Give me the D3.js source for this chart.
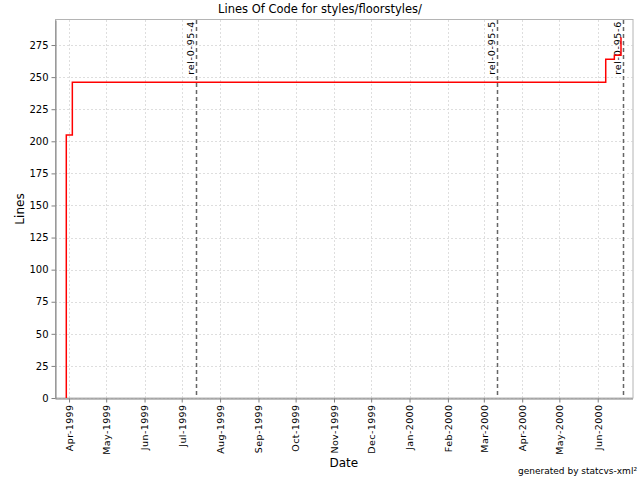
<!DOCTYPE html>
<html>
<head>
<meta charset="utf-8">
<script src="https://cdn.jsdelivr.net/npm/d3@7"></script>
<style>
  body { margin: 0; background: #fff; }
  svg text { font-family: "DejaVu Sans", sans-serif; fill: #000; }
  .grid line { stroke: #dedede; stroke-dasharray: 2,2; }
</style>
</head>
<body>
<svg width="640" height="480"></svg>
<script>
// commit history for styles/floorstyles/
var dates = ["1999-03-29T19:00Z", "1999-03-29T19:00Z", "1999-04-03T16:00Z",
             "2000-06-07T11:00Z", "2000-06-14T10:00Z", "2000-06-19T19:00Z"];
var lines = [0, 205, 246, 264, 267, 281];

// release tags
var tagNames = ["rel-0-95-4", "rel-0-95-5", "rel-0-95-6"];
var tagDates = ["1999-07-12T07:00Z", "2000-03-11T12:00Z", "2000-06-21T19:00Z"];

var yTicks = [0, 25, 50, 75, 100, 125, 150, 175, 200, 225, 250, 275];

var svg = d3.select("svg");

// plot box (window.top is reserved, so plotTop)
var plotLeft = 55, plotRight = 632.5, plotTop = 20, plotBottom = 398;

var x = d3.scaleUtc()
    .domain([new Date("1999-03-20T16:00Z"), new Date("2000-06-29T02:00Z")])
    .range([plotLeft, plotRight]);
var y = d3.scaleLinear().domain([0, 294.5]).range([plotBottom, plotTop]);

var data = dates.map(function(d, i) { return {date: new Date(d), value: lines[i]}; });
var tags = tagNames.map(function(n, i) { return {name: n, date: new Date(tagDates[i])}; });

// title
svg.append("text")
    .attr("x", 320).attr("y", 13)
    .attr("text-anchor", "middle")
    .style("font-size", "11.5px")
    .text("Lines Of Code for styles/floorstyles/");

// grid
var monthTicks = x.ticks(d3.utcMonth.every(1));
var grid = svg.append("g").attr("class", "grid");
grid.selectAll(".gx").data(monthTicks).enter().append("line")
    .attr("x1", function(d) { return Math.round(x(d)) + 0.5; })
    .attr("x2", function(d) { return Math.round(x(d)) + 0.5; })
    .attr("y1", plotTop).attr("y2", plotBottom);
grid.selectAll(".gy").data(yTicks).enter().append("line")
    .attr("x1", plotLeft).attr("x2", plotRight)
    .attr("y1", function(d) { return Math.round(y(d)) + 0.5; })
    .attr("y2", function(d) { return Math.round(y(d)) + 0.5; });

// plot outline
svg.append("rect")
    .attr("x", plotLeft + 0.5).attr("y", plotTop - 0.5)
    .attr("width", plotRight - plotLeft).attr("height", plotBottom - plotTop + 0.5)
    .attr("fill", "none").attr("stroke", "#b4b4b4");

// tag markers
var tag = svg.append("g").selectAll("g").data(tags).enter().append("g");
tag.append("line")
    .attr("x1", function(d) { return Math.round(x(d.date)) + 0.5; })
    .attr("x2", function(d) { return Math.round(x(d.date)) + 0.5; })
    .attr("y1", plotTop).attr("y2", plotBottom)
    .attr("stroke", "#666").attr("stroke-width", 1.5)
    .attr("stroke-dasharray", "4,3");
tag.append("text")
    .attr("transform", function(d) {
        return "translate(" + (Math.round(x(d.date)) - 2) + "," + (plotTop + 1) + ") rotate(-90)";
    })
    .attr("text-anchor", "end")
    .style("font-size", "9.5px")
    .style("letter-spacing", "0.7px")
    .text(function(d) { return d.name; });

// the LOC line
var line = d3.line()
    .curve(d3.curveStepAfter)
    .x(function(d) { return x(d.date); })
    .y(function(d) { return y(d.value); });
svg.append("path")
    .datum(data)
    .attr("d", line)
    .attr("fill", "none")
    .attr("stroke", "#ff0000")
    .attr("stroke-width", 1.5);

// axes
var xAxis = svg.append("g")
    .attr("transform", "translate(0," + (plotBottom + 0.5) + ")")
    .call(d3.axisBottom(x).tickValues(monthTicks)
        .tickFormat(d3.utcFormat("%b-%Y")).tickSizeInner(4).tickSizeOuter(0));
xAxis.selectAll("text")
    .attr("transform", "rotate(-90)")
    .attr("text-anchor", "end")
    .attr("x", -6).attr("y", 0).attr("dy", "0.35em")
    .style("font-size", "9.5px")
    .style("letter-spacing", "0.4px");

var yAxis = svg.append("g")
    .attr("transform", "translate(" + (plotLeft + 0.5) + ",0)")
    .call(d3.axisLeft(y).tickValues(yTicks).tickSizeInner(4).tickSizeOuter(0));
yAxis.selectAll("text").style("font-size", "10px");

svg.selectAll(".domain").attr("stroke", "#808080");
svg.selectAll(".tick line").attr("stroke", "#808080");
svg.selectAll(".tick text").attr("fill", "#000").style("font-family", "DejaVu Sans, sans-serif");

// axis labels
svg.append("text")
    .attr("x", (plotLeft + plotRight) / 2).attr("y", 467)
    .attr("text-anchor", "middle")
    .style("font-size", "12px")
    .text("Date");
svg.append("text")
    .attr("transform", "translate(24," + ((plotTop + plotBottom) / 2) + ") rotate(-90)")
    .attr("text-anchor", "middle")
    .style("font-size", "12px")
    .text("Lines");

svg.append("text")
    .attr("x", 637).attr("y", 474)
    .attr("text-anchor", "end")
    .style("font-size", "9px")
    .text("generated by statcvs-xml²");
</script>
</body>
</html>
